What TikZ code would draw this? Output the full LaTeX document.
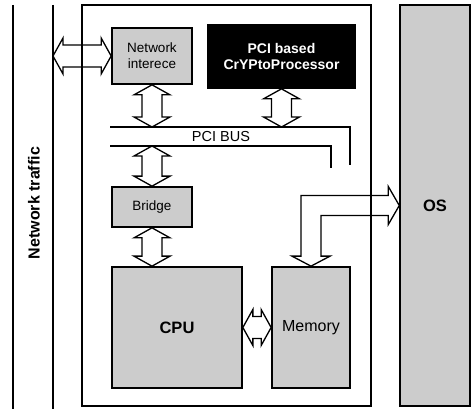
\documentclass[tikz,border=0pt]{standalone}
\usepackage{fontspec}
\setmainfont{Liberation Sans}
\usetikzlibrary{calc}

\tikzset{
  unit/.style={draw, line width=1.7pt, fill=black!20, inner sep=0pt, align=center,
    font=\fontsize{13.5}{16}\selectfont},
  link/.style={line width=1.3pt, line join=miter},
  bus/.style={line width=1.2pt},
  wire/.style={line width=2.4pt},
}

% fat double arrow, upper end to lower end
\newcommand{\vlink}[2]{%
  \draw[link] let \p1=#1, \p2=#2 in
    (\x1,\y1) -- (\x1+18pt,\y1-10pt) -- (\x1+10pt,\y1-10pt) -- (\x1+10pt,\y2+10pt)
    -- (\x1+18pt,\y2+10pt) -- (\x1,\y2) -- (\x1-18pt,\y2+10pt) -- (\x1-10pt,\y2+10pt)
    -- (\x1-10pt,\y1-10pt) -- (\x1-18pt,\y1-10pt) -- cycle;}
% fat double arrow, left end to right end
\newcommand{\hlink}[2]{%
  \draw[link] let \p1=#1, \p2=#2 in
    (\x1,\y1) -- (\x1+10pt,\y1+18pt) -- (\x1+10pt,\y1+11pt) -- (\x2-10pt,\y1+11pt)
    -- (\x2-10pt,\y1+18pt) -- (\x2,\y1) -- (\x2-10pt,\y1-18pt) -- (\x2-10pt,\y1-11pt)
    -- (\x1+10pt,\y1-11pt) -- (\x1+10pt,\y1-18pt) -- cycle;}

\begin{document}
\begin{tikzpicture}[x=1pt, y=-1pt]
    \useasboundingbox (0,0) rectangle (472,409);

    % Network traffic
    \coordinate (lanA) at (13,5);
    \coordinate (lanB) at (53,5);
    \draw[wire] (lanA) -- (13,409);
    \draw[wire] (lanB) -- (53,409);
    \node[rotate=90, font=\fontsize{16}{18}\selectfont\bfseries] (traffic) at (34,203) {Network traffic};

    % Host machine
    \node[draw, line width=2pt, minimum width=289pt, minimum height=401pt] (host) at (226.5,205.5) {};

    % OS
    \node[draw, line width=1.4pt, fill=black!20, minimum width=70pt, minimum height=401pt,
      font=\fontsize{16.5}{18}\selectfont\bfseries] (os) at (435,205.5) {OS};

    % Cards
    \node[unit, minimum width=80pt, minimum height=56pt] (net) at (152,56) {Network\\interece};
    \node[unit, fill=black, text=white, font=\fontsize{14}{16}\selectfont\bfseries,
      minimum width=147pt, minimum height=63pt] (crypto) at (281.5,56.5) {PCI based\\CrYPtoProcessor};
    \node[unit, minimum width=80pt, minimum height=40pt] (bridge) at (152,207) {Bridge};
    \node[unit, minimum width=130pt, minimum height=121pt,
      font=\fontsize{16.5}{18}\selectfont\bfseries] (cpu) at (177,327.5) {CPU};
    \node[unit, minimum width=78pt, minimum height=121pt,
      font=\fontsize{16}{18}\selectfont] (mem) at (311,327.5) {Memory};

    % PCI bus
    \coordinate (busT) at (110,127);
    \coordinate (busB) at (110,146);
    \draw[bus] (busT) -- (350,127) -- (350,165);
    \draw[bus] (busB) -- (331,146) -- (331,168);
    \node[font=\fontsize{14.5}{16}\selectfont] (pcibus) at (221,136.5) {PCI BUS};

    % Links
    \hlink{(lanB |- net.west)}{(net.west)}
    \vlink{(net.south)}{(net.south |- busT)}
    \vlink{(crypto.south)}{(crypto.south |- busT)}
    \vlink{(bridge.north |- busB)}{(bridge.north)}
    \vlink{(bridge.south)}{(bridge.south |- cpu.north)}
    \hlink{(cpu.east)}{(mem.west)}

    % Memory <-> OS
    \draw[link] let \p1=(mem.north), \p2=(os.west) in
      (\x1,\y1) -- (\x1+19pt,\y1+10pt) -- (\x1+10pt,\y1+10pt) -- (\x1+10pt,\y2-10pt)
      -- (\x2-11pt,\y2-10pt) -- (\x2-11pt,\y2-19pt) -- (\x2,\y2) -- (\x2-11pt,\y2+19pt)
      -- (\x2-11pt,\y2+10pt) -- (\x1-10pt,\y2+10pt) -- (\x1-10pt,\y1+10pt)
      -- (\x1-19pt,\y1+10pt) -- cycle;
\end{tikzpicture}
\end{document}
